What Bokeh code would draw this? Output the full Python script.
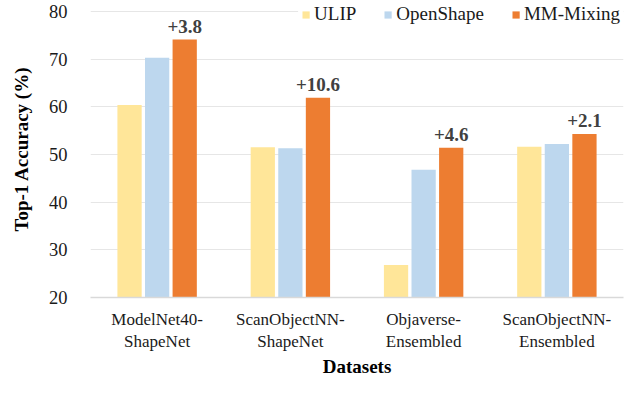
from bokeh.plotting import figure
from bokeh.models import ColumnDataSource, Legend, LegendItem
from bokeh.transform import dodge
from bokeh.core.properties import value
from bokeh.embed import file_html
from bokeh.resources import INLINE

datasets = ["ModelNet40-\nShapeNet", "ScanObjectNN-\nShapeNet", "Objaverse-\nEnsembled", "ScanObjectNN-\nEnsembled"]
ulip = [60.4, 51.5, 26.8, 51.6]
openshape = [70.3, 51.3, 46.8, 52.2]
mm_mixing = [74.1, 61.9, 51.4, 54.3]
gains = ["+3.8", "+10.6", "+4.6", "+2.1"]
yticks = [20, 30, 40, 50, 60, 70, 80]

src = ColumnDataSource(dict(x=datasets, ulip=ulip, openshape=openshape, mm=mm_mixing, gain=gains))

FONT = "Liberation Serif"
p = figure(x_range=datasets, y_range=(20, 82.3), width=625, height=380,
           output_backend="svg", toolbar_location=None,
           min_border_left=90, min_border_right=2, min_border_top=0, min_border_bottom=82)
p.x_range.range_padding = 0
p.outline_line_color = None
p.background_fill_color = "white"

w = 0.182
step = 0.207
r1 = p.vbar(x=dodge("x", -step, range=p.x_range), top="ulip", bottom=20, width=w, source=src,
            fill_color="#FFE699", line_color=None)
r2 = p.vbar(x=dodge("x", 0, range=p.x_range), top="openshape", bottom=20, width=w, source=src,
            fill_color="#BDD7EE", line_color=None)
r3 = p.vbar(x=dodge("x", step, range=p.x_range), top="mm", bottom=20, width=w, source=src,
            fill_color="#ED7D31", line_color=None)

p.text(x=dodge("x", step, range=p.x_range), y="mm", text="gain", source=src,
       text_align="center", text_baseline="alphabetic", y_offset=-13,
       text_font=value(FONT), text_font_style="bold", text_font_size="19px", text_color="#404040")

p.yaxis.ticker = yticks
p.ygrid.grid_line_color = "#E6E6E6"
p.ygrid.grid_line_width = 1
p.xgrid.grid_line_color = None

p.yaxis.axis_line_color = None
p.yaxis.major_tick_line_color = None
p.yaxis.minor_tick_line_color = None
p.yaxis.major_label_text_font = FONT
p.yaxis.major_label_text_font_size = "18.5px"
p.yaxis.major_label_text_color = "#1a1a1a"
p.yaxis.major_label_standoff = 17
p.yaxis.axis_label = "Top-1 Accuracy (%)"
p.yaxis.axis_label_text_font = FONT
p.yaxis.axis_label_text_font_style = "bold"
p.yaxis.axis_label_text_font_size = "19px"
p.yaxis.axis_label_text_color = "black"
p.yaxis.axis_label_standoff = 14

p.xaxis.axis_line_color = "#D9D9D9"
p.xaxis.axis_line_width = 1.5
p.xaxis.major_tick_line_color = None
p.xaxis.minor_tick_line_color = None
p.xaxis.major_label_text_font = FONT
p.xaxis.major_label_text_font_size = "17px"
p.xaxis.major_label_text_color = "#1a1a1a"
p.xaxis.major_label_standoff = 6
p.xaxis.axis_label = "Datasets"
p.xaxis.axis_label_text_font = FONT
p.xaxis.axis_label_text_font_style = "bold"
p.xaxis.axis_label_text_font_size = "19px"
p.xaxis.axis_label_text_color = "black"
p.xaxis.axis_label_standoff = 2

legend = Legend(items=[LegendItem(label="ULIP", renderers=[r1]),
                       LegendItem(label="OpenShape", renderers=[r2]),
                       LegendItem(label="MM-Mixing", renderers=[r3])],
                location="top_right", orientation="horizontal",
                margin=0, padding=3, spacing=27, glyph_width=9, glyph_height=9,
                label_standoff=4, label_text_font=FONT, label_text_font_size="19px",
                label_text_color="#1a1a1a", border_line_alpha=0, background_fill_alpha=1,
                background_fill_color="white")
p.add_layout(legend)

open("out.html", "w").write(file_html(p, INLINE))
